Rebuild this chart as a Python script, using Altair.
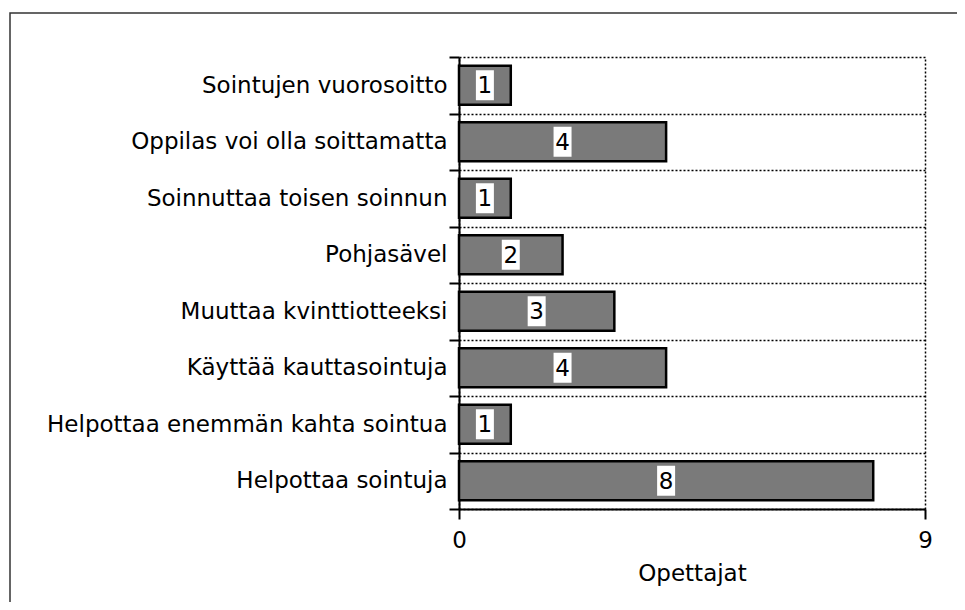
import altair as alt
import pandas as pd

categories = [
    "Sointujen vuorosoitto",
    "Oppilas voi olla soittamatta",
    "Soinnuttaa toisen soinnun",
    "Pohjasävel",
    "Muuttaa kvinttiotteeksi",
    "Käyttää kauttasointuja",
    "Helpottaa enemmän kahta sointua",
    "Helpottaa sointuja",
]
values = [1, 4, 1, 2, 3, 4, 1, 8]
x_ticks = [0, 9]
x_title = "Opettajat"

df = pd.DataFrame({"cat": categories, "val": values})
df["mid"] = df["val"] / 2

FONT = "DejaVu Sans"
FS = 23

y_enc = alt.Y(
    "cat:N",
    sort=categories,
    title=None,
    scale=alt.Scale(paddingInner=0, paddingOuter=0),
    axis=alt.Axis(
        tickBand="extent",
        grid=True,
        gridColor="black",
        gridDash=[2, 2],
        gridWidth=1.5,
        domainColor="black",
        domainWidth=2,
        ticks=True,
        tickColor="black",
        tickWidth=2,
        tickSize=10,
        labelPadding=2,
        labelFont=FONT,
        labelFontSize=FS,
        labelColor="black",
        labelLimit=500,
    ),
)

x_scale = alt.Scale(domain=[0, 9], nice=False)

base = alt.Chart(df)

bars = base.mark_bar(
    color="#7a7a7a", stroke="black", strokeWidth=2.5,
    height=alt.RelativeBandSize(0.69),
).encode(
    y=y_enc,
    x=alt.X(
        "val:Q",
        scale=x_scale,
        title=x_title,
        axis=alt.Axis(
            values=x_ticks,
            labelFlush=False,
            grid=True,
            gridColor="black",
            gridDash=[2, 2],
            gridWidth=1.5,
            domainColor="black",
            domainWidth=2,
            tickColor="black",
            tickWidth=2,
            tickSize=10,
            labelPadding=10,
            labelFont=FONT,
            labelFontSize=FS,
            labelColor="black",
            titleFont=FONT,
            titleFontSize=FS,
            titleFontWeight="normal",
            titleColor="black",
            titlePadding=10,
        ),
    ),
)

boxes = base.mark_point(
    shape="M-0.6,-1L0.6,-1L0.6,1L-0.6,1Z",
    filled=True,
    color="white",
    opacity=1,
    size=900,
).encode(
    y=alt.Y("cat:N", sort=categories),
    x=alt.X("mid:Q", scale=x_scale),
)

labels = base.mark_text(
    font=FONT, fontSize=FS, color="black", baseline="middle", dy=1
).encode(
    y=alt.Y("cat:N", sort=categories),
    x=alt.X("mid:Q", scale=x_scale),
    text=alt.Text("val:Q"),
)

frame = alt.Chart(pd.DataFrame({"f": [0]})).mark_rect(
    fill=None, stroke="#333333", strokeWidth=1.5
).encode(
    x=alt.value(-449), x2=alt.value(540), y=alt.value(-44), y2=alt.value(600)
)

chart = (
    alt.layer(frame, bars, boxes, labels)
    .properties(
        width=466,
        height=452,
        autosize=alt.AutoSizeParams(type="none"),
        padding={"left": 451, "top": 49, "right": 32, "bottom": 93},
        background="white",
    )
    .configure_view(stroke=None)
)

chart.save("out.html", embed_options={"renderer": "svg", "actions": False})
